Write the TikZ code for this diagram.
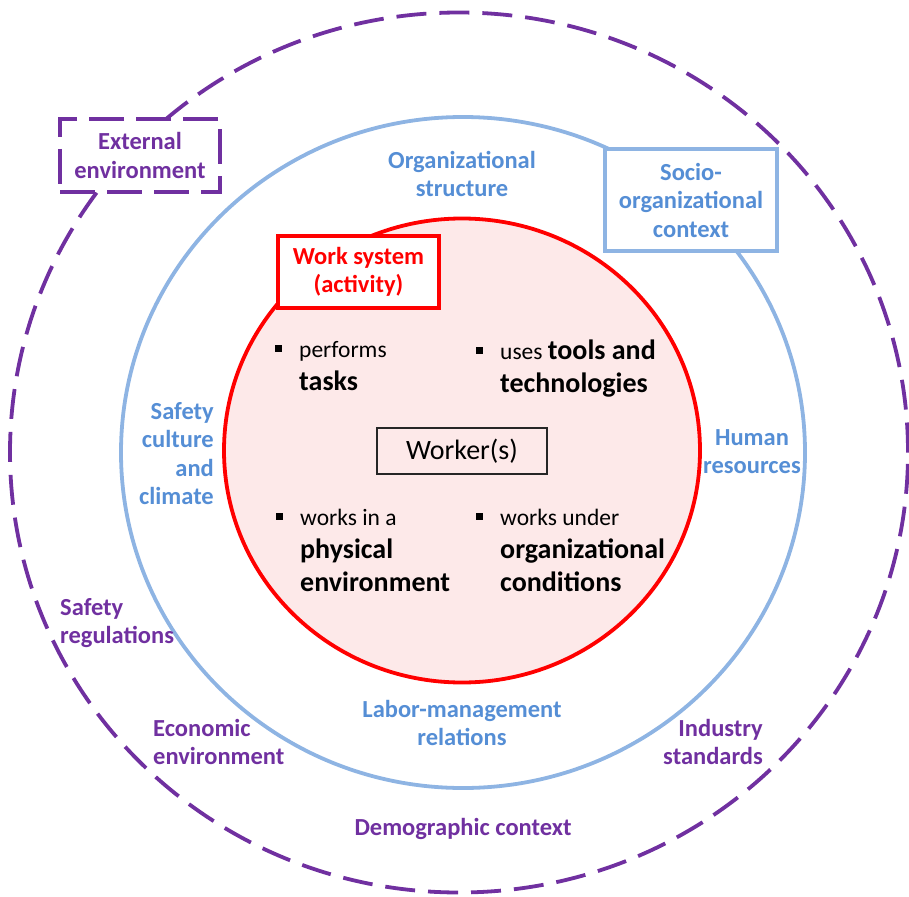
\documentclass[tikz,border=0pt]{standalone}
\usepackage{fontspec}
\setmainfont{Carlito}
\usepackage{xcolor}
\usetikzlibrary{positioning}

\definecolor{extpurple}{HTML}{7030A0}
\definecolor{orgblue}{HTML}{558ED5}
\definecolor{ringblue}{HTML}{8EB4E3}
\definecolor{workred}{HTML}{FF0000}
\definecolor{workpink}{HTML}{FDE9E9}

\newcommand{\wsbold}[1]{{\fontsize{28}{33}\selectfont\bfseries #1}}
\newcommand{\wsbullet}{\rule[5pt]{7pt}{7pt}}

\begin{document}
\begin{tikzpicture}[x=1pt, y=-1pt]
    % Define the style for the rings, boxes and labels
    \tikzstyle{ring} = [line width=3.8pt]
    \tikzstyle{ext} = [font=\fontsize{24.5}{28.5}\selectfont\bfseries, text=extpurple, align=center, inner sep=0pt]
    \tikzstyle{org} = [font=\fontsize{24.5}{28.5}\selectfont\bfseries, text=orgblue, align=center, inner sep=0pt]
    \tikzstyle{titlebox} = [line width=3.8pt, fill=white, align=center, inner sep=0pt, font=\fontsize{24.5}{28.5}\selectfont\bfseries]
    \tikzstyle{item} = [font=\fontsize{23.5}{33}\selectfont, inner sep=0pt, anchor=base west]

    \useasboundingbox (0,0) rectangle (909,896);

    % Draw the rings
    \draw [ring, extpurple, dash pattern=on 30pt off 13pt] (459,452.5) ellipse [x radius=449pt, y radius=440pt];
    \draw [ring, ringblue] (463,452.5) ellipse [x radius=342pt, y radius=335.5pt];
    \draw [ring, workred, fill=workpink] (462,450.5) ellipse [x radius=238pt, y radius=232pt];

    % Place the title boxes
    \node [titlebox, draw=extpurple, text=extpurple, dash pattern=on 35pt off 12pt, minimum width=160pt, minimum height=73pt] (external) at (140,155.5) {External\\environment};
    \node [titlebox, draw=ringblue, text=orgblue, minimum width=172pt, minimum height=102pt] (socio) at (691,200) {Socio-\\organizational\\context};
    \node [titlebox, draw=workred, text=workred, minimum width=161pt, minimum height=72pt] (worksys) at (358.5,272) {Work system\\(activity)};
    \node [draw=black!85, line width=1.6pt, minimum width=170pt, minimum height=46pt, font=\fontsize{28}{30}\selectfont] (worker) at (462,451) {Worker(s)};

    % Place the work system items
    \node [item] (tasks) at (275,357) {\begin{tabular}[t]{@{}l@{\hspace{17pt}}l@{}}\wsbullet & performs\\ & \wsbold{tasks}\end{tabular}};
    \node [item] (tools) at (476,359) {\begin{tabular}[t]{@{}l@{\hspace{17pt}}l@{}}\wsbullet & uses \wsbold{tools and}\\ & \wsbold{technologies}\end{tabular}};
    \node [item] (physical) at (276,525) {\begin{tabular}[t]{@{}l@{\hspace{17pt}}l@{}}\wsbullet & works in a\\ & \wsbold{physical}\\ & \wsbold{environment}\end{tabular}};
    \node [item] (conditions) at (476,525) {\begin{tabular}[t]{@{}l@{\hspace{17pt}}l@{}}\wsbullet & works under\\ & \wsbold{organizational}\\ & \wsbold{conditions}\end{tabular}};

    % Place the socio-organizational labels
    \node [org] (structure) at (462,174) {Organizational\\structure};
    \node [org, anchor=east, align=right] (culture) at (214,453.5) {Safety\\culture\\and\\climate};
    \node [org] (human) at (752,451.5) {Human\\resources};
    \node [org] (labor) at (462,723) {Labor-management\\relations};

    % Place the external environment labels
    \node [ext, anchor=west, align=left] (regulations) at (60,623) {Safety\\regulations};
    \node [ext, anchor=west, align=left] (economic) at (153,742) {Economic\\environment};
    \node [ext, anchor=east, align=right] (industry) at (763,742) {Industry\\standards};
    \node [ext] (demographic) at (463,829) {Demographic context};

\end{tikzpicture}
\end{document}
